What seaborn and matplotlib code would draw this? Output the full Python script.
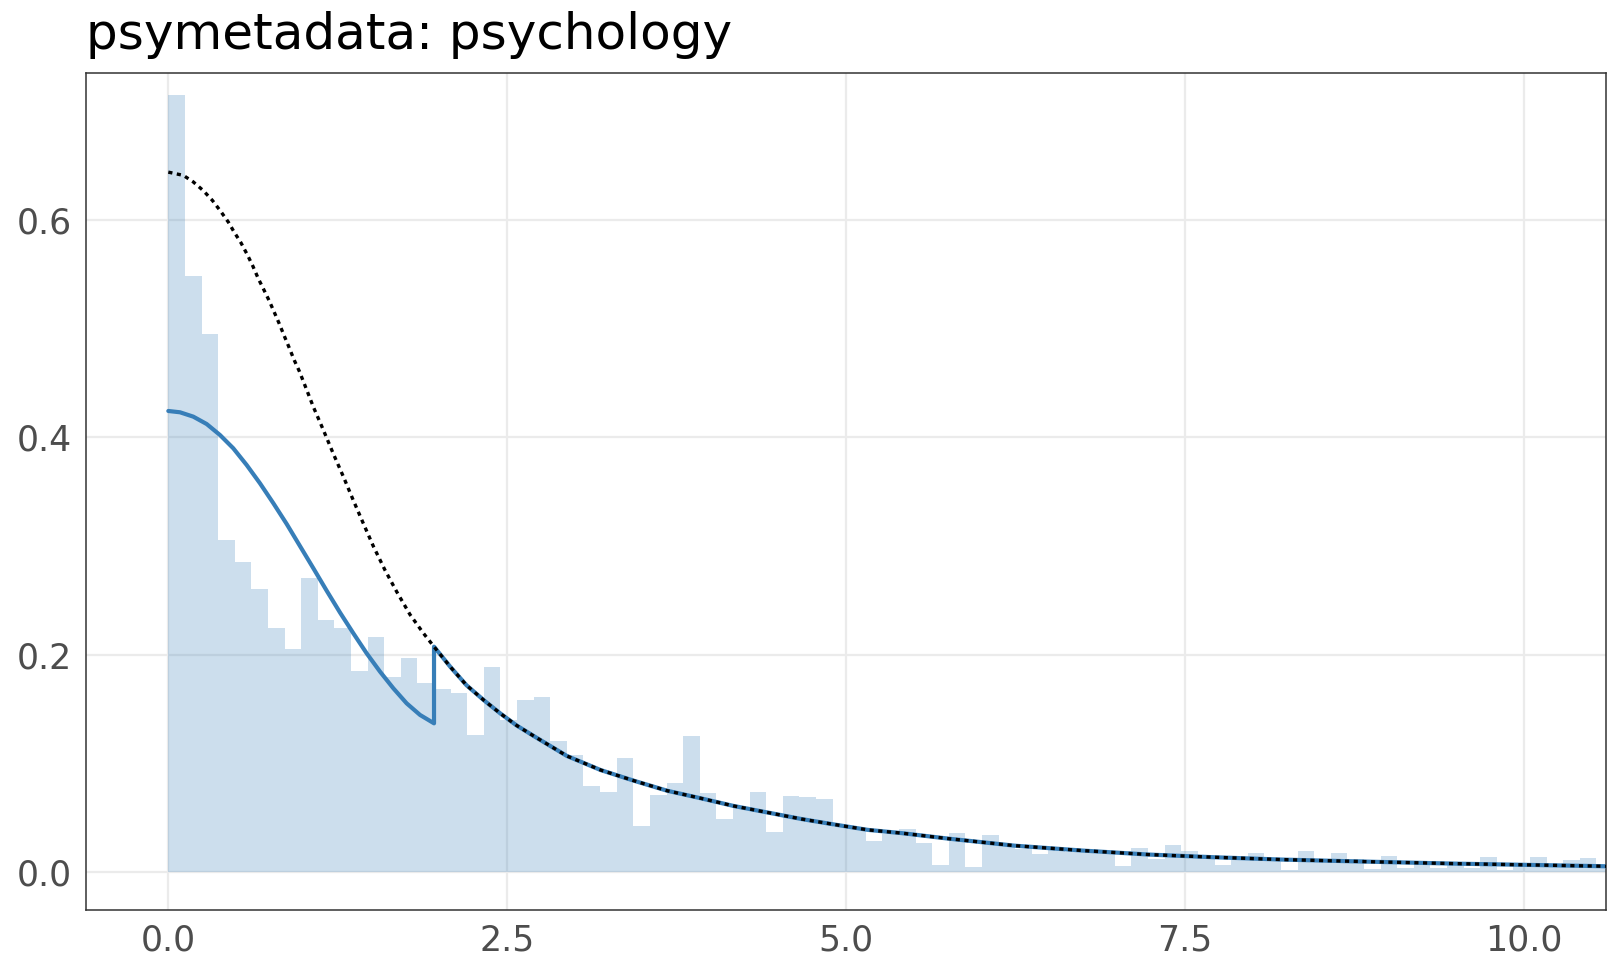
import numpy as np
import pandas as pd
import matplotlib
matplotlib.use("Agg")
import matplotlib.pyplot as plt
import seaborn as sns

# ---------------- data ----------------
bin_width = 0.1225
hist_heights = [
    0.715, 0.548, 0.495, 0.306, 0.285, 0.261, 0.225, 0.205, 0.271, 0.232,
    0.225, 0.185, 0.216, 0.180, 0.197, 0.174, 0.169, 0.165, 0.126, 0.189,
    0.140, 0.158, 0.161, 0.121, 0.108, 0.079, 0.074, 0.105, 0.043, 0.071,
    0.082, 0.125, 0.073, 0.049, 0.060, 0.074, 0.037, 0.070, 0.069, 0.067,
    0.042, 0.041, 0.029, 0.035, 0.040, 0.027, 0.007, 0.036, 0.005, 0.034,
    0.026, 0.021, 0.017, 0.021, 0.019, 0.019, 0.018, 0.006, 0.022, 0.012,
    0.025, 0.020, 0.015, 0.007, 0.014, 0.018, 0.013, 0.002, 0.020, 0.012,
    0.018, 0.012, 0.003, 0.015, 0.004, 0.009, 0.004, 0.007, 0.004, 0.014,
    0.002, 0.006, 0.014, 0.007, 0.011, 0.013, 0.007,
]

# dotted (unadjusted) curve before the 1.96 cutoff
dotted_pre_x = [0.000, 0.111, 0.184, 0.258, 0.325, 0.386, 0.443, 0.485, 0.536, 0.583,
                0.622, 0.664, 0.704, 0.743, 0.782, 0.817, 0.853, 0.890, 0.929, 0.966,
                1.001, 1.070, 1.143, 1.217, 1.291, 1.365, 1.438, 1.512, 1.598, 1.685,
                1.783, 1.881, 1.960]
dotted_pre_y = [0.644, 0.641, 0.635, 0.627, 0.618, 0.608, 0.598, 0.589, 0.579, 0.568,
                0.558, 0.546, 0.536, 0.526, 0.515, 0.505, 0.494, 0.483, 0.471, 0.461,
                0.450, 0.428, 0.407, 0.385, 0.364, 0.342, 0.321, 0.300, 0.278, 0.258,
                0.237, 0.220, 0.2075]

# blue (adjusted) curve before the 1.96 cutoff
blue_pre_x = [0.000, 0.086, 0.184, 0.283, 0.381, 0.479, 0.578, 0.676, 0.775, 0.873,
              0.971, 1.070, 1.168, 1.267, 1.365, 1.463, 1.562, 1.660, 1.758, 1.857,
              1.960]
blue_pre_y = [0.4243, 0.4231, 0.4191, 0.4123, 0.4022, 0.3900, 0.3746, 0.3578, 0.3394, 0.3204,
              0.3001, 0.2796, 0.2590, 0.2388, 0.2198, 0.2014, 0.1845, 0.1692, 0.1554, 0.1447,
              0.1370]

# shared tail after the cutoff
tail_x = [1.96, 2.08, 2.20, 2.33, 2.45, 2.57, 2.70, 2.82, 2.94, 3.19, 3.44, 3.68,
          3.93, 4.17, 4.42, 4.67, 4.91, 5.16, 5.41, 5.75, 6.24, 6.74, 7.23, 7.72,
          8.21, 8.73, 9.47, 10.21, 10.62]
tail_y = [0.2075, 0.189, 0.172, 0.158, 0.146, 0.135, 0.125, 0.116, 0.107, 0.094, 0.084, 0.075,
          0.068, 0.061, 0.055, 0.049, 0.044, 0.039, 0.036, 0.031, 0.0245, 0.020, 0.0163, 0.0138,
          0.0117, 0.0101, 0.0080, 0.0064, 0.0055]

title = "psymetadata: psychology"
x_ticks = [0.0, 2.5, 5.0, 7.5, 10.0]
y_ticks = [0.0, 0.2, 0.4, 0.6]

# ---------------- build frames ----------------
n_bins = len(hist_heights)
centers = (np.arange(n_bins) + 0.5) * bin_width
hist_df = pd.DataFrame({"z": centers, "w": hist_heights})

dotted_df = pd.DataFrame({"x": dotted_pre_x + tail_x[1:], "y": dotted_pre_y + tail_y[1:]})
blue_df = pd.DataFrame({"x": blue_pre_x + tail_x, "y": blue_pre_y + tail_y})

# ---------------- plot ----------------
sns.set_theme(style="white")
plt.rcParams["font.family"] = ["DejaVu Sans"]

fig = plt.figure(figsize=(16.2, 9.72), dpi=100)
ax = fig.add_axes([86.3 / 1620, 1 - 910 / 972, (1605.7 - 86.3) / 1620, (910 - 73.3) / 972])

ax.set_axisbelow(True)
for xv in x_ticks:
    ax.axvline(xv, color="#ebebeb", lw=1.6, zorder=0)
for yv in y_ticks:
    ax.axhline(yv, color="#ebebeb", lw=1.6, zorder=0)

BLUE = "#377EB8"
sns.histplot(data=hist_df, x="z", weights="w", binwidth=bin_width,
             binrange=(0, n_bins * bin_width), stat="count",
             color=BLUE, alpha=0.25, linewidth=0, edgecolor="none", ax=ax, zorder=1)

sns.lineplot(data=blue_df, x="x", y="y", sort=False, estimator=None,
             color=BLUE, lw=3.0, ax=ax, zorder=3)
sns.lineplot(data=dotted_df, x="x", y="y", sort=False, estimator=None,
             color="black", lw=2.4, linestyle=(0, (1.25, 1.35)),
             dash_capstyle="butt", ax=ax, zorder=4)

ax.set_xlim(-0.605, 10.603)
ax.set_ylim(-0.0347, 0.7349)
ax.set_xticks(x_ticks)
ax.set_xticklabels([f"{v:.1f}" for v in x_ticks])
ax.set_yticks(y_ticks)
ax.set_yticklabels([f"{v:.1f}" for v in y_ticks])
ax.set_xlabel("")
ax.set_ylabel("")
ax.tick_params(axis="both", which="major", length=5.5, width=1.1, color="#333333",
               labelcolor="#4d4d4d", labelsize=25, direction="out")
ax.tick_params(axis="x", pad=4)
ax.tick_params(axis="y", pad=5)
for s in ax.spines.values():
    s.set_visible(True)
    s.set_color("#333333")
    s.set_linewidth(1.1)

fig.text(86.3 / 1620, 1 - 49 / 972, title, fontsize=36, color="black",
         ha="left", va="baseline")

fig.savefig("out.png", dpi=100, facecolor="white")
